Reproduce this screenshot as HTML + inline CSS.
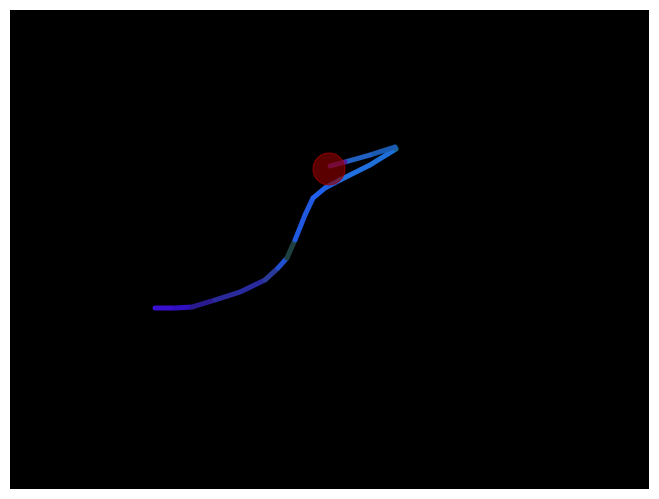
<!DOCTYPE html>
<html><head><meta charset="utf-8"><style>
html,body{margin:0;padding:0;background:#fff;}
svg{display:block;}
</style></head><body>
<svg id="chart" width="659" height="499" xmlns="http://www.w3.org/2000/svg">
<rect x="10" y="10" width="639" height="479" fill="#000"/>
<g id="marks"></g>
</svg>
<script>
const xs=[145,165,182,205,230,255,268,277,285,295,303,315,330,360,386,385,360,335,320];
const ys=[181,181,182,189,197,209,221,231,249,274,291,301,309,324,340,342,334,327,323];
const segColors=['#3a10d0','#3010c0','#2a1a90','#2a2a9a','#2a2aa0','#2a3a9a','#2050d0','#1e4040','#2058e0','#2058e0','#2060f0','#1e60e0','#2070e0','#1e70d8','#1a6a90','#1a5ab0','#2060c0','#5020a0'];
const marker={x:319,y:320,r:16};
const sx=v=>10+v, sy=v=>489-v;
const g=document.getElementById('marks');
const NS='http://www.w3.org/2000/svg';
for(let i=0;i<xs.length-1;i++){
 const l=document.createElementNS(NS,'line');
 
 
 l.setAttribute('x1',sx(xs[i]));l.setAttribute('y1',sy(ys[i]));
 l.setAttribute('x2',sx(xs[i+1]));l.setAttribute('y2',sy(ys[i+1]));
 l.setAttribute('stroke',segColors[i]);l.setAttribute('stroke-width','5');
 l.setAttribute('stroke-linecap','round');
 g.appendChild(l);
}
const c=document.createElementNS(NS,'circle');


c.setAttribute('cx',sx(marker.x));c.setAttribute('cy',sy(marker.y));c.setAttribute('r',marker.r);
c.setAttribute('fill','rgba(140,0,0,0.65)');c.setAttribute('stroke','rgba(160,0,0,0.8)');
g.appendChild(c);
</script>
</body></html>
